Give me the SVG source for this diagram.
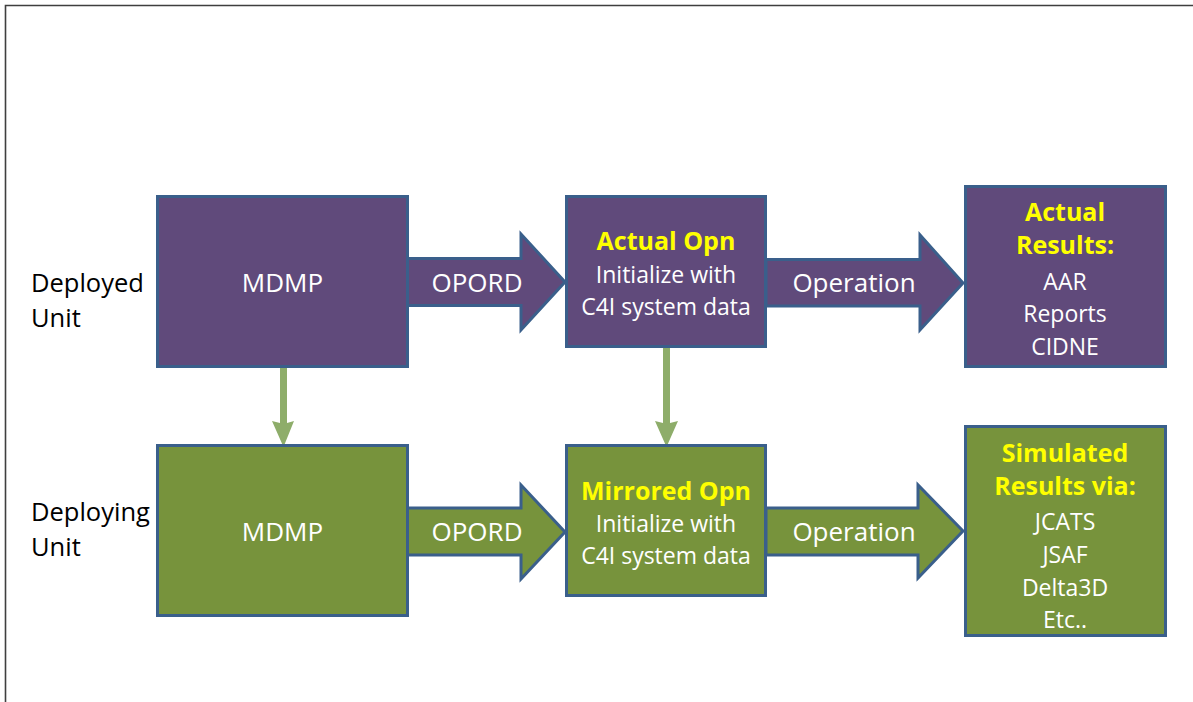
<svg xmlns="http://www.w3.org/2000/svg" width="1193" height="702" viewBox="0 0 1193 702">
  <style>
    .frame { fill: none; stroke: #3f3f3f; stroke-width: 1.6; }
    .box { stroke: #3A5F8B; stroke-width: 3; }
    .purple { fill: #604A7B; }
    .green { fill: #77933C; }
    .t { font-family: "Open Sans", "Liberation Sans", sans-serif; fill: #ffffff; text-anchor: middle; }
    .lbl { font-size: 26px; }
    .sm { font-size: 23px; }
    .hd { font-size: 25px; font-weight: bold; fill: #FFFF00; }
    .side { font-family: "Open Sans", "Liberation Sans", sans-serif; font-size: 25.5px; fill: #000000; }
    .down { fill: #8EAD6A; }
  </style>

  <!-- page frame -->
  <path class="frame" d="M5.5,702 V5.5 H1193"/>

  <!-- row labels -->
  <text class="side" x="31" y="292">Deployed</text>
  <text class="side" x="31" y="327">Unit</text>
  <text class="side" x="31" y="521">Deploying</text>
  <text class="side" x="31" y="556">Unit</text>

  <!-- connectors -->
  <g id="connectors">
    <path class="box purple" d="M407,258.5 H521 V234 L565,282 L521,330 V305.5 H407 Z"/>
    <path class="box purple" d="M766,259.5 H920 V235 L963,283 L920,330 V306 H766 Z"/>
    <path class="box green" d="M407,508 H521 V485 L565,532 L521,579 V555 H407 Z"/>
    <path class="box green" d="M766,508 H918 V485 L963,531 L918,578 V555 H766 Z"/>
    <path class="down" d="M280,366 H287 V423 L294,421 L283.5,447 L272,421 L280,423 Z"/>
    <path class="down" d="M663,347 H670 V423 L678,421 L666.5,447 L655,421 L663,423 Z"/>
    <text class="t lbl" x="477" y="292">OPORD</text>
    <text class="t lbl" x="854" y="292">Operation</text>
    <text class="t lbl" x="477" y="541">OPORD</text>
    <text class="t lbl" x="854" y="541">Operation</text>
  </g>

  <g id="mdmp-deployed">
    <rect class="box purple" x="157.5" y="196.5" width="250" height="170"/>
    <text class="t lbl" x="282.5" y="292" font-size="27">MDMP</text>
  </g>

  <g id="actual-opn">
    <rect class="box purple" x="566.5" y="196.5" width="199" height="150"/>
    <text class="t hd" x="666" y="250">Actual Opn</text>
    <text class="t sm" x="666" y="283">Initialize with</text>
    <text class="t sm" x="666" y="315">C4I system data</text>
  </g>

  <g id="actual-results">
    <rect class="box purple" x="965.5" y="186.5" width="200" height="180"/>
    <text class="t hd" x="1065" y="221">Actual</text>
    <text class="t hd" x="1065" y="254">Results:</text>
    <text class="t sm" x="1065" y="290">AAR</text>
    <text class="t sm" x="1065" y="322">Reports</text>
    <text class="t sm" x="1065" y="355">CIDNE</text>
  </g>

  <g id="mdmp-deploying">
    <rect class="box green" x="157.5" y="445.5" width="250" height="170"/>
    <text class="t lbl" x="282.5" y="541" font-size="27">MDMP</text>
  </g>

  <g id="mirrored-opn">
    <rect class="box green" x="566.5" y="445.5" width="199" height="150"/>
    <text class="t hd" x="666" y="500">Mirrored Opn</text>
    <text class="t sm" x="666" y="532">Initialize with</text>
    <text class="t sm" x="666" y="564">C4I system data</text>
  </g>

  <g id="simulated-results">
    <rect class="box green" x="965.5" y="426.5" width="200" height="209"/>
    <text class="t hd" x="1065" y="462">Simulated</text>
    <text class="t hd" x="1065" y="495">Results via:</text>
    <text class="t sm" x="1065" y="530">JCATS</text>
    <text class="t sm" x="1065" y="563">JSAF</text>
    <text class="t sm" x="1065" y="596">Delta3D</text>
    <text class="t sm" x="1065" y="628">Etc..</text>
  </g>
</svg>
